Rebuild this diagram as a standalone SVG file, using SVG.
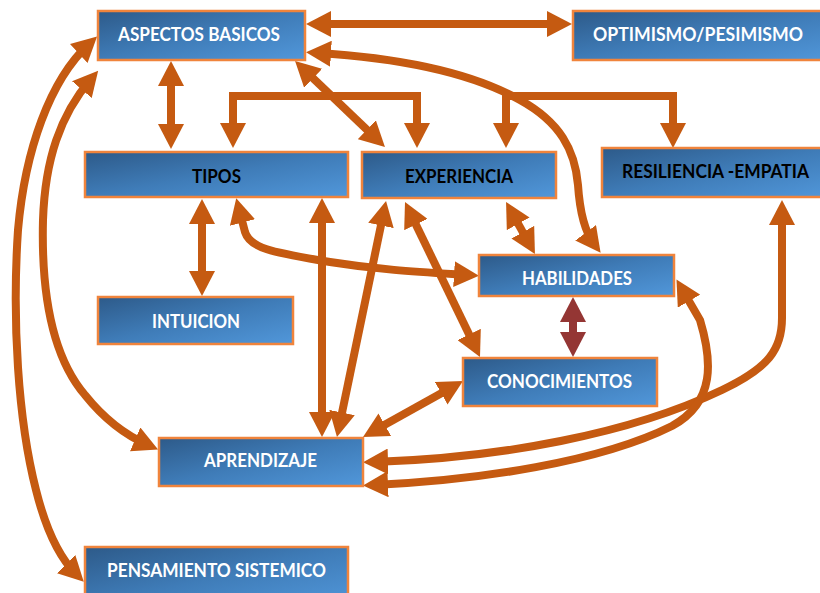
<svg xmlns="http://www.w3.org/2000/svg" width="820" height="593" viewBox="0 0 820 593">
  <defs>
    <linearGradient id="boxFill" x1="0" y1="0" x2="1" y2="1">
      <stop offset="0" stop-color="#2d5a89"/>
      <stop offset="0.5" stop-color="#3f7cb8"/>
      <stop offset="1" stop-color="#5197da"/>
    </linearGradient>
    <marker id="ah" viewBox="0 0 25 26" refX="14" refY="13" markerWidth="25" markerHeight="26" markerUnits="userSpaceOnUse" orient="auto-start-reverse">
      <path d="M0,0 L25,13 L0,26 z" fill="#c55a11"/>
    </marker>
    <marker id="ahRed" viewBox="0 0 25 26" refX="14" refY="13" markerWidth="25" markerHeight="26" markerUnits="userSpaceOnUse" orient="auto-start-reverse">
      <path d="M0,0 L25,13 L0,26 z" fill="#943634"/>
    </marker>
  </defs>
  <style>
    .box { fill: url(#boxFill); stroke: #f0843c; stroke-width: 2.5; }
    .lbl { font-family: "Lato", "Liberation Sans", sans-serif; font-weight: 700; font-size: 18px; text-anchor: middle; }
    .w { fill: #ffffff; }
    .k { fill: #000000; }
    .c { fill: none; stroke: #c55a11; stroke-width: 8; stroke-linejoin: miter; }
    .two { marker-start: url(#ah); marker-end: url(#ah); }
    .red { fill: none; stroke: #943634; stroke-width: 8; marker-start: url(#ahRed); marker-end: url(#ahRed); }
  </style>

  <rect width="820" height="593" fill="#ffffff"/>

  <!-- connectors -->
  <g id="connectors">
    <!-- aspectos basicos <-> optimismo/pesimismo -->
    <path class="c two" d="M317,24 L561,24"/>
    <!-- aspectos basicos <-> habilidades -->
    <path class="c two" d="M317,53 C400,58 470,72 520,100 C560,122 575,150 578,185 C580,215 585,232 594,244"/>
    <!-- aspectos basicos <-> tipos -->
    <path class="c two" d="M171,72 L171,138"/>
    <!-- aspectos basicos <-> experiencia -->
    <path class="c two" d="M303,68.6 L377,139.4"/>
    <!-- bracket over tipos / experiencia -->
    <path class="c two" d="M233,137 L233,96 L417,96 L417,137"/>
    <!-- bracket over experiencia / resiliencia -->
    <path class="c two" d="M506,137 L506,96 L673,96 L673,137"/>
    <!-- tipos <-> intuicion -->
    <path class="c two" d="M202,210 L202,285"/>
    <!-- tipos <-> habilidades -->
    <path class="c two" d="M239,209 L245,232 C250,248 270,252 330,262 C380,270 420,272 468,275"/>
    <!-- tipos <-> aprendizaje -->
    <path class="c two" d="M322,209 L322,426"/>
    <!-- experiencia <-> aprendizaje -->
    <path class="c two" d="M339.2,426.2 L383.8,211.8"/>
    <!-- experiencia <-> conocimientos -->
    <path class="c two" d="M409.8,211.9 L475.2,347.1"/>
    <!-- experiencia <-> habilidades -->
    <path class="c two" d="M511.4,211.6 L529.6,244.4"/>
    <!-- habilidades <-> conocimientos -->
    <path class="red" d="M573,308 L573,346"/>
    <!-- conocimientos <-> aprendizaje -->
    <path class="c two" d="M372.6,431.6 L453.4,386.4"/>
    <!-- aprendizaje <-> resiliencia-empatia -->
    <path class="c two" d="M374,462 C500,458 630,434 722,390 C768,368 782,350 782,318 L782,211"/>
    <!-- aprendizaje <-> habilidades -->
    <path class="c two" d="M374,485 C480,480 600,462 672,426 C716,402 712,360 700,320 L682,289"/>
    <!-- aspectos basicos <-> pensamiento sistemico -->
    <path class="c two" d="M89,44 C50,80 25,150 18,230 C12,320 18,420 36,490 C46,530 60,558 76,574"/>
    <!-- aspectos basicos <-> aprendizaje -->
    <path class="c two" d="M91,79 C60,115 45,160 43,220 C41,300 55,360 85,395 C105,420 125,435 148,445"/>
  </g>

  <!-- nodes -->
  <g id="aspectos-basicos">
    <rect class="box" x="98" y="11" width="207" height="49"/>
    <text class="lbl w" x="199" y="41" textLength="162" lengthAdjust="spacingAndGlyphs">ASPECTOS BASICOS</text>
  </g>
  <g id="optimismo-pesimismo">
    <rect class="box" x="573" y="11" width="260" height="49"/>
    <text class="lbl w" x="698" y="41" textLength="210" lengthAdjust="spacingAndGlyphs">OPTIMISMO/PESIMISMO</text>
  </g>
  <g id="tipos">
    <rect class="box" x="85" y="152" width="263" height="45"/>
    <text class="lbl k" x="216.5" y="183" textLength="49" lengthAdjust="spacingAndGlyphs">TIPOS</text>
  </g>
  <g id="experiencia">
    <rect class="box" x="362" y="152" width="194" height="46"/>
    <text class="lbl k" x="459" y="183" textLength="108" lengthAdjust="spacingAndGlyphs">EXPERIENCIA</text>
  </g>
  <g id="resiliencia-empatia">
    <rect class="box" x="602" y="148" width="230" height="49"/>
    <text class="lbl k" x="715.5" y="178" textLength="187" lengthAdjust="spacingAndGlyphs">RESILIENCIA -EMPATIA</text>
  </g>
  <g id="intuicion">
    <rect class="box" x="98" y="297" width="195" height="47"/>
    <text class="lbl w" x="196" y="328" textLength="88" lengthAdjust="spacingAndGlyphs">INTUICION</text>
  </g>
  <g id="habilidades">
    <rect class="box" x="479" y="255" width="195" height="41"/>
    <text class="lbl w" x="577" y="285" textLength="110" lengthAdjust="spacingAndGlyphs">HABILIDADES</text>
  </g>
  <g id="conocimientos">
    <rect class="box" x="463" y="358" width="194" height="48"/>
    <text class="lbl w" x="559.5" y="388" textLength="145" lengthAdjust="spacingAndGlyphs">CONOCIMIENTOS</text>
  </g>
  <g id="aprendizaje">
    <rect class="box" x="159" y="438" width="204" height="48"/>
    <text class="lbl w" x="260.5" y="467" textLength="113" lengthAdjust="spacingAndGlyphs">APRENDIZAJE</text>
  </g>
  <g id="pensamiento-sistemico">
    <rect class="box" x="85" y="547" width="263" height="60"/>
    <text class="lbl w" x="216.5" y="577" textLength="219" lengthAdjust="spacingAndGlyphs">PENSAMIENTO SISTEMICO</text>
  </g>
</svg>
